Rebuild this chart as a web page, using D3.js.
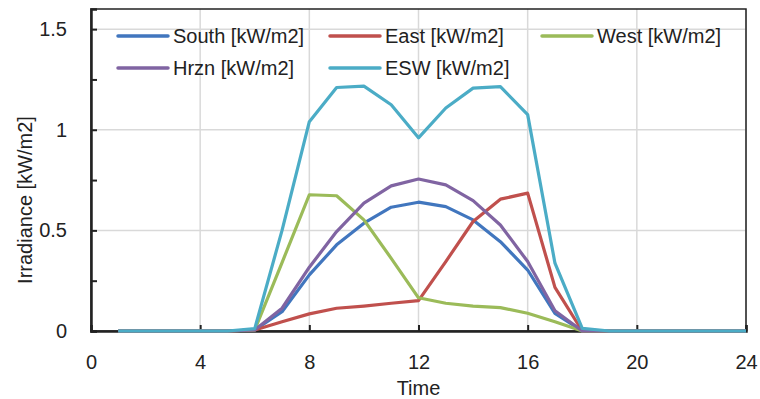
<!DOCTYPE html>
<html>
<head>
<meta charset="utf-8">
<script src="https://cdn.jsdelivr.net/npm/d3@7"></script>
<style>
  body { margin: 0; background: #fff; }
  text { font-family: "Liberation Sans", Arial, sans-serif; fill: #222; }
</style>
</head>
<body>
<script>
// Data: hourly irradiance, hours 1..24
var hours = d3.range(1, 25);
var south = [0, 0, 0, 0, 0, 0.005, 0.096, 0.279, 0.428, 0.536, 0.615, 0.640, 0.618, 0.552, 0.444, 0.303, 0.088, 0, 0, 0, 0, 0, 0, 0];
var east  = [0, 0, 0, 0, 0, 0.005, 0.046, 0.085, 0.113, 0.124, 0.138, 0.151, 0.345, 0.544, 0.655, 0.685, 0.217, 0, 0, 0, 0, 0, 0, 0];
var west  = [0, 0, 0, 0, 0, 0.005, 0.340, 0.677, 0.672, 0.552, 0.361, 0.165, 0.138, 0.124, 0.116, 0.088, 0.046, 0, 0, 0, 0, 0, 0, 0];
var hrzn  = [0, 0, 0, 0, 0, 0.005, 0.113, 0.317, 0.494, 0.635, 0.721, 0.755, 0.726, 0.648, 0.527, 0.345, 0.101, 0, 0, 0, 0, 0, 0, 0];
var esw   = [0, 0, 0, 0, 0, 0.012, 0.500, 1.040, 1.210, 1.217, 1.124, 0.960, 1.108, 1.207, 1.214, 1.075, 0.337, 0.013, 0, 0, 0, 0, 0, 0];

var seriesNames = ["South [kW/m2]", "East [kW/m2]", "West [kW/m2]", "Hrzn [kW/m2]", "ESW [kW/m2]"];
var seriesColors = ["#4176be", "#c0504d", "#9bbb59", "#8064a2", "#4bacc6"];
var seriesData = [south, east, west, hrzn, esw];
var xTicks = [0, 4, 8, 12, 16, 20, 24];
var yTicks = [0, 0.25, 0.5, 0.75, 1, 1.25, 1.5];
var yGrid = [0.5, 1, 1.5];

// Set the dimensions of the canvas / graph
var margin = {top: 9, right: 14, bottom: 68, left: 91},
    width = 760 - margin.left - margin.right,
    height = 399 - margin.top - margin.bottom;

var x = d3.scaleLinear().domain([0, 24]).range([0, width]);
var y = d3.scaleLinear().domain([0, 1.6]).range([height, 0]);

var svg = d3.select("body")
    .append("svg")
        .attr("width", 760)
        .attr("height", 399)
    .append("g")
        .attr("transform", "translate(" + margin.left + "," + margin.top + ")");

// gridlines
svg.append("g").selectAll("line")
    .data(xTicks.slice(1))
  .enter().append("line")
    .attr("x1", function(d) { return x(d); })
    .attr("x2", function(d) { return x(d); })
    .attr("y1", 0).attr("y2", height)
    .style("stroke", "#d9d9d9").style("stroke-width", 1.5);

svg.append("g").selectAll("line")
    .data(yGrid)
  .enter().append("line")
    .attr("x1", 0).attr("x2", width)
    .attr("y1", function(d) { return y(d); })
    .attr("y2", function(d) { return y(d); })
    .style("stroke", "#d9d9d9").style("stroke-width", 1.5);

// frame
svg.append("rect")
    .attr("x", 0).attr("y", 0)
    .attr("width", width).attr("height", height)
    .style("fill", "none").style("stroke", "#222").style("stroke-width", 1.5);

// axes with inward ticks
var xAxis = d3.axisBottom(x).tickValues(xTicks).tickSize(-6).tickPadding(24)
    .tickFormat(d3.format("d"));
var yAxis = d3.axisLeft(y).tickValues(yTicks).tickSize(-6).tickPadding(24)
    .tickFormat(function(d) { return (d * 2) % 1 === 0 ? String(d) : ""; });

var gx = svg.append("g")
    .attr("transform", "translate(0," + height + ")")
    .call(xAxis);
var gy = svg.append("g").call(yAxis);

[gx, gy].forEach(function(g) {
    g.select(".domain").style("stroke", "#222").style("stroke-width", 2.5);
    g.selectAll(".tick line").style("stroke", "#222").style("stroke-width", 2);
    g.selectAll(".tick text")
        .style("font-size", "20px")
        .style("font-family", "'Liberation Sans', Arial, sans-serif")
        .style("fill", "#222");
});

// lines
var valueline = d3.line()
    .x(function(d, i) { return x(hours[i]); })
    .y(function(d) { return y(d); });

seriesData.forEach(function(s, k) {
    svg.append("path")
        .attr("d", valueline(s))
        .style("fill", "none")
        .style("stroke", seriesColors[k])
        .style("stroke-width", 3.2)
        .style("stroke-linejoin", "round");
});

// legend
var legendPos = [[27, 27], [239, 27], [451, 27], [27, 59], [239, 59]];
seriesNames.forEach(function(n, k) {
    var g = svg.append("g")
        .attr("transform", "translate(" + legendPos[k][0] + "," + legendPos[k][1] + ")");
    g.append("line")
        .attr("x1", 0).attr("x2", 50)
        .attr("y1", 0).attr("y2", 0)
        .style("stroke", seriesColors[k])
        .style("stroke-width", 3.5)
        .style("stroke-linecap", "round");
    g.append("text")
        .attr("x", 55).attr("y", 0)
        .attr("dy", "0.35em")
        .style("font-size", "20px")
        .text(n);
});

// axis titles
svg.append("text")
    .attr("x", width / 2)
    .attr("y", height + 64)
    .style("text-anchor", "middle")
    .style("font-size", "20px")
    .text("Time");

svg.append("text")
    .attr("transform", "rotate(-90)")
    .attr("x", -191)
    .attr("y", -59)
    .style("text-anchor", "middle")
    .style("font-size", "20px")
    .text("Irradiance [kW/m2]");
</script>
</body>
</html>
